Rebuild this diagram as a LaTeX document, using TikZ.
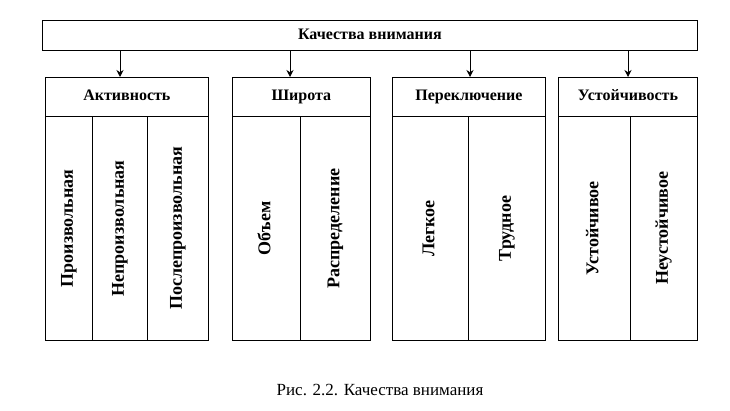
\documentclass[tikz,border=0pt]{standalone}
\usepackage{fontspec}
\setmainfont{Liberation Serif}
\usetikzlibrary{positioning, arrows.meta}
\tikzset{x=1pt, y=-1pt,
         box/.style={draw, thick, inner sep=0pt, anchor=north west, text height=11pt, text depth=3pt, font=\bfseries\fontsize{16}{18}\selectfont},
         col/.style={box, rotate=90, anchor=north east, font=\bfseries\fontsize{18}{20}\selectfont},
         link/.style={-{Stealth[length=7pt,width=7pt]}, thick},
         }
\begin{document}
\begin{tikzpicture}
    \useasboundingbox (0,0) rectangle (730,411);
    \node[box, minimum width=655, minimum height=30] (top) at (42,20) {Качества внимания};

    % headers
    \node[box, minimum width=163, minimum height=39] (act) at (45,77) {Активность};
    \node[box, minimum width=138, minimum height=39] (shir) at (232,77) {Широта};
    \node[box, minimum width=153, minimum height=39] (per) at (392,77) {Переключение};
    \node[box, minimum width=139, minimum height=39] (ust) at (558,77) {Устойчивость};

    % columns (rotated: width is vertical extent)
    \node[col, minimum width=224, minimum height=47] (c1) at (45,116) {Произвольная};
    \node[col, minimum width=224, minimum height=55] (c2) at (92,116) {Непроизвольная};
    \node[col, minimum width=224, minimum height=61] (c3) at (147,116) {Послепроизвольная};
    \node[col, minimum width=224, minimum height=68] (c4) at (232,116) {Объем};
    \node[col, minimum width=224, minimum height=70] (c5) at (300,116) {Распределение};
    \node[col, minimum width=224, minimum height=76] (c6) at (392,116) {Легкое};
    \node[col, minimum width=224, minimum height=77] (c7) at (468,116) {Трудное};
    \node[col, minimum width=224, minimum height=72] (c8) at (558,116) {Устойчивое};
    \node[col, minimum width=224, minimum height=67] (c9) at (630,116) {Неустойчивое};

    \draw[link] (top.south -| 120,0) -- (act.north -| 120,0);
    \draw[link] (top.south -| 290,0) -- (shir.north -| 290,0);
    \draw[link] (top.south -| 470,0) -- (per.north -| 470,0);
    \draw[link] (top.south -| 628,0) -- (ust.north -| 628,0);

    \node[font=\fontsize{17}{19}\selectfont] (cap) at (380,390) {Рис. 2.2. Качества внимания};
\end{tikzpicture}
\end{document}
